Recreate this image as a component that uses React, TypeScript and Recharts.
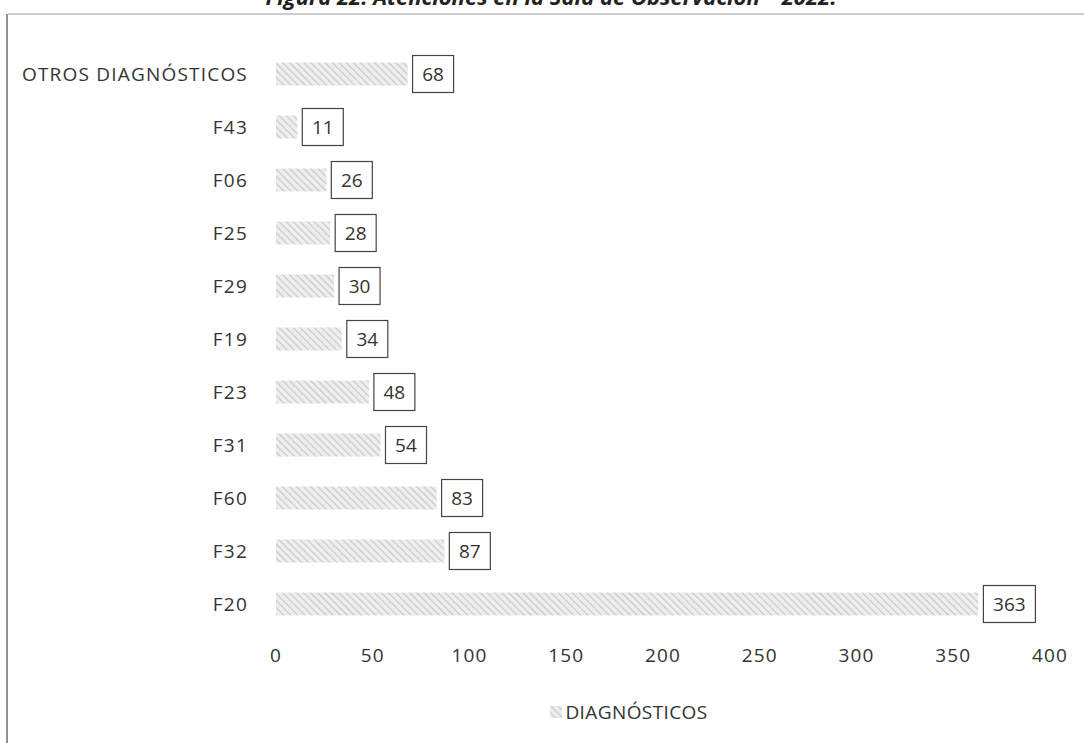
import { Bar, BarChart, LabelList, Legend, XAxis, YAxis } from 'recharts';

const categories = ['OTROS DIAGNÓSTICOS', 'F43', 'F06', 'F25', 'F29', 'F19', 'F23', 'F31', 'F60', 'F32', 'F20'];
const diagnosticos = [68, 11, 26, 28, 30, 34, 48, 54, 83, 87, 363];
const xTicks = [0, 50, 100, 150, 200, 250, 300, 350, 400];

const rows = categories.map((name, i) => ({ name, value: diagnosticos[i] }));

const font = "'Open Sans', 'Liberation Sans', sans-serif";
const ink = '#333333';
const tickStyle = { fontSize: 19, fill: ink, fontFamily: font, letterSpacing: 1.2 };

// boxed value label just past the end of each bar
function BoxLabel(props: any) {
  const { x, y, width, height, value } = props;
  const text = String(value);
  const boxW = text.length * 11 + 19;
  const boxH = 37;
  const bx = Number(x) + Number(width) + 5;
  const cy = Number(y) + Number(height) / 2;
  return (
    <g>
      <rect x={bx} y={cy - boxH / 2} width={boxW} height={boxH} fill="#fff" stroke="#444" strokeWidth={1.2} />
      <text x={bx + boxW / 2} y={cy} textAnchor="middle" dominantBaseline="central" fontSize={19} fill={ink} fontFamily={font}>
        {text}
      </text>
    </g>
  );
}

function LegendContent() {
  return (
    <div
      style={{
        display: 'flex',
        justifyContent: 'center',
        alignItems: 'center',
        fontFamily: font,
        fontSize: 19,
        letterSpacing: 0.4,
        color: ink,
        paddingTop: 29,
        paddingLeft: 208,
        lineHeight: '25px',
      }}
    >
      <svg width={12} height={12} style={{ marginRight: 3 }}>
        <rect width={12} height={12} fill="url(#hatch)" />
      </svg>
      DIAGNÓSTICOS
    </div>
  );
}

export default function App() {
  return (
    <div style={{ position: 'absolute', left: 0, top: 0, width: 1084, height: 743, background: '#fff', overflow: 'hidden' }}>
      <svg width={1084} height={743} style={{ position: 'absolute', left: 0, top: 0 }}>
        <text x={551} y={5} textAnchor="middle" fontFamily={font} fontWeight={700} fontStyle="italic" fontSize={22} fill="#222">
          Figura 22. Atenciones en la Sala de Observación – 2022.
        </text>
        <line x1={8} y1={14} x2={1084} y2={14} stroke="#9a9a9a" strokeWidth={1.2} />
        <line x1={7} y1={14} x2={7} y2={743} stroke="#777" strokeWidth={1.6} />
      </svg>
      <div style={{ position: 'absolute', left: 0, top: 0 }}>
        <BarChart
          width={1084}
          height={743}
          data={rows}
          layout="vertical"
          margin={{ top: 47.5, right: 34, bottom: 20.5, left: 0 }}
          barSize={23}
        >
          <defs>
            <pattern id="hatch" patternUnits="userSpaceOnUse" width={5} height={5} patternTransform="rotate(-45)">
              <rect width={5} height={5} fill="#eeeeee" />
              <line x1={0} y1={0} x2={0} y2={5} stroke="#c6c6c6" strokeWidth={2.2} />
            </pattern>
          </defs>
          <XAxis
            type="number"
            domain={[0, 400]}
            ticks={xTicks}
            axisLine={false}
            tickLine={false}
            tickMargin={12}
            height={40}
            tick={tickStyle}
          />
          <YAxis
            type="category"
            dataKey="name"
            width={276}
            axisLine={false}
            tickLine={false}
            tickMargin={22}
            tick={tickStyle}
          />
          <Legend verticalAlign="bottom" height={52} wrapperStyle={{ height: 52 }} content={<LegendContent />} />
          <Bar dataKey="value" name="DIAGNÓSTICOS" fill="url(#hatch)" isAnimationActive={false}>
            <LabelList dataKey="value" content={<BoxLabel />} />
          </Bar>
        </BarChart>
      </div>
    </div>
  );
}
